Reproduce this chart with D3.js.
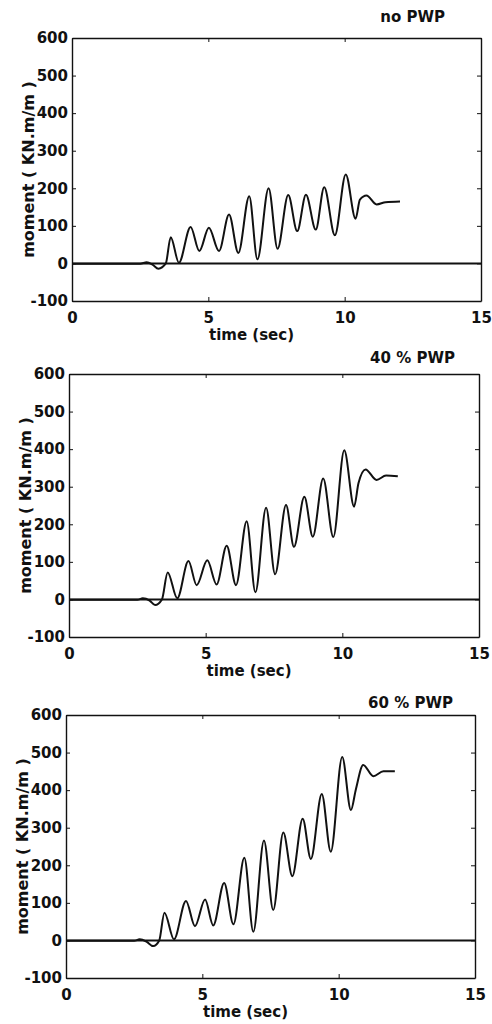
<!DOCTYPE html>
<html>
<head>
<meta charset="utf-8">
<script src="https://cdn.jsdelivr.net/npm/d3@7"></script>
<style>
body { margin: 0; background: #fff; }
text { font-family: "DejaVu Sans", sans-serif; font-weight: bold; fill: #111; }
</style>
</head>
<body>
<svg id="chart"></svg>
<script>
// values
var xTicks = [0, 5, 10, 15];
var yTicks = [-100, 0, 100, 200, 300, 400, 500, 600];
var titles = ["no PWP", "40 % PWP", "60 % PWP"];

var timeNoPwp = [0, 2.5, 2.74, 2.95, 3.17, 3.44, 3.62, 3.92, 4.35, 4.67, 5.02, 5.39, 5.76, 6.1, 6.5, 6.8, 7.21, 7.54, 7.93, 8.26, 8.58, 8.94, 9.25, 9.64, 10.04, 10.4, 10.56, 10.8, 11.17, 11.5, 12.03];
var momentNoPwp = [-1, -1, 3, -3, -14, 0, 70, 2, 97, 33, 95, 33, 130, 28, 179, 11, 200, 39, 182, 86, 183, 90, 203, 75, 237, 119, 170, 181, 157, 163, 165];

var time40 = [0, 2.5, 2.7, 2.95, 3.15, 3.4, 3.61, 3.96, 4.37, 4.67, 5.06, 5.4, 5.77, 6.11, 6.5, 6.82, 7.21, 7.54, 7.94, 8.23, 8.61, 8.92, 9.3, 9.67, 10.07, 10.43, 10.59, 10.85, 11.25, 11.6, 12.03];
var moment40 = [-1, -1, 3, -3, -15, 0, 72, 3, 102, 38, 104, 40, 143, 38, 208, 19, 244, 67, 251, 140, 273, 167, 322, 166, 397, 247, 309, 346, 318, 330, 328];

var time60 = [0, 2.5, 2.7, 2.95, 3.2, 3.42, 3.61, 3.96, 4.4, 4.73, 5.1, 5.4, 5.8, 6.14, 6.54, 6.87, 7.26, 7.6, 7.97, 8.3, 8.68, 8.98, 9.38, 9.71, 10.13, 10.45, 10.63, 10.9, 11.27, 11.64, 12.06];
var moment60 = [-1, -1, 3, -3, -15, 0, 74, 3, 105, 38, 109, 40, 153, 43, 220, 23, 266, 81, 287, 171, 324, 217, 390, 236, 488, 347, 402, 467, 437, 450, 450];

var allTimes = [timeNoPwp, time40, time60];
var allMoments = [momentNoPwp, moment40, moment60];

// where each panel sits on the page
var frames = [
    {left: 72, top: 38, right: 481, bottom: 301, titleX: 445, titleY: 22},
    {left: 69, top: 374, right: 479, bottom: 637, titleX: 455, titleY: 363},
    {left: 66, top: 715, right: 475, bottom: 978, titleX: 453, titleY: 708}
];

var svg = d3.select("#chart")
    .attr("width", 492)
    .attr("height", 1024);

frames.forEach(function(f, i) {
    var x = d3.scaleLinear().domain([0, 15]).range([f.left, f.right]);
    var y = d3.scaleLinear().domain([-100, 600]).range([f.bottom, f.top]);
    var g = svg.append("g");

    // axes with inward ticks, plain hyphen for negatives like the original
    g.append("g")
        .attr("transform", "translate(0," + f.bottom + ")")
        .call(d3.axisBottom(x).tickValues(xTicks).tickFormat(String).tickSizeInner(-4).tickSizeOuter(0).tickPadding(11));
    g.append("g")
        .attr("transform", "translate(" + f.left + ",0)")
        .call(d3.axisLeft(y).tickValues(yTicks).tickFormat(String).tickSizeInner(-4).tickSizeOuter(0).tickPadding(4));
    g.append("g")
        .attr("transform", "translate(0," + f.top + ")")
        .call(d3.axisTop(x).tickValues(xTicks).tickFormat("").tickSizeInner(-4).tickSizeOuter(0));
    g.append("g")
        .attr("transform", "translate(" + f.right + ",0)")
        .call(d3.axisRight(y).tickValues(yTicks).tickFormat("").tickSizeInner(-4).tickSizeOuter(0));

    g.selectAll(".domain").attr("stroke", "#111").attr("stroke-width", 1.4);
    g.selectAll(".tick line").attr("stroke", "#111").attr("stroke-width", 1);
    g.selectAll(".tick text")
        .attr("font-size", "15px")
        .attr("font-family", "DejaVu Sans, sans-serif")
        .attr("font-weight", "bold")
        .attr("fill", "#111");

    // zero line across the plot
    g.append("line")
        .attr("x1", x(0))
        .attr("x2", x(15))
        .attr("y1", y(0))
        .attr("y2", y(0))
        .attr("stroke", "#111")
        .attr("stroke-width", 2);

    var pts = allTimes[i].map(function(t, k) { return [t, allMoments[i][k]]; });
    var line = d3.line()
        .x(function(d) { return x(d[0]); })
        .y(function(d) { return y(d[1]); })
        .curve(d3.curveMonotoneX);
    g.append("path")
        .datum(pts)
        .attr("d", line)
        .attr("fill", "none")
        .attr("stroke", "#111")
        .attr("stroke-width", 2)
        .attr("stroke-linejoin", "round");

    // labels
    g.append("text")
        .attr("x", f.titleX)
        .attr("y", f.titleY)
        .attr("text-anchor", "end")
        .attr("font-size", "15px")
        .text(titles[i]);
    g.append("text")
        .attr("x", (f.left + f.right) / 2 - 25)
        .attr("y", f.bottom + 39)
        .attr("text-anchor", "middle")
        .attr("font-size", "15px")
        .text("time (sec)");
    g.append("text")
        .attr("transform", "translate(" + (f.left - 44) + "," + (f.top + f.bottom) / 2 + ") rotate(-90)")
        .attr("dy", "0.35em")
        .attr("text-anchor", "middle")
        .attr("font-size", "16px")
        .text("moment ( KN.m/m )");
});
</script>
</body>
</html>
